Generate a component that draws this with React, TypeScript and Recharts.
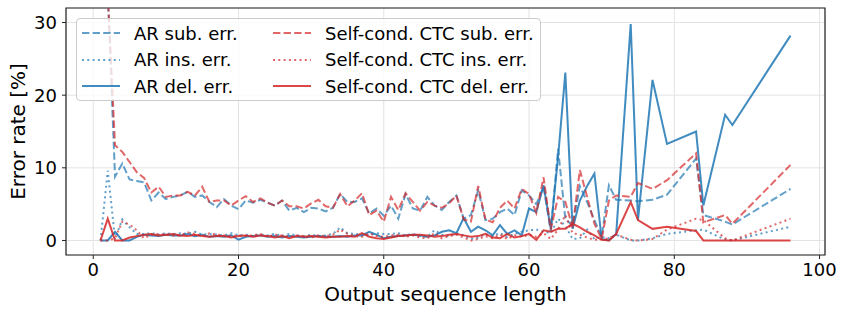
import React from "react";
import {
  LineChart,
  Line,
  XAxis,
  YAxis,
  CartesianGrid,
  ReferenceArea,
} from "recharts";

// output sequence lengths present in the test set
const lengths = [
  1, 2, 3, 4, 5, 6, 7, 8, 9, 10, 11, 12, 13, 14, 15, 16, 17, 18, 19, 20,
  21, 22, 23, 24, 25, 26, 27, 28, 29, 30, 31, 32, 33, 34, 35, 36, 37, 38, 39, 40,
  41, 42, 43, 44, 45, 46, 47, 48, 49, 50, 51, 52, 53, 54, 55, 56, 57, 58, 59, 60,
  61, 62, 63, 64, 65, 66, 67, 68, 69, 70, 71, 72, 74, 75, 77, 79, 83, 84, 87, 88, 96,
];

const arSub = [
  null, 34, 8.8, 10.6, 8.4, 8.2, 8.0, 5.5, 6.6, 5.7, 6.0, 6.2, 6.7, 6.0, 6.2, 5.3, 4.6, 5.7, 4.8, 4.3,
  5.5, 5.2, 5.6, 5.2, 4.8, 5.5, 4.1, 4.5, 3.9, 4.5, 4.4, 4.0, 4.5, 6.4, 5.3, 5.3, 5.8, 3.7, 4.4, 3.4,
  4.8, 3.0, 6.4, 4.4, 4.1, 6.0, 4.8, 4.2, 5.3, 6.2, 3.0, 3.5, 6.9, 2.8, 3.0, 3.9, 4.4, 3.5, 6.9, 6.2,
  5.0, 7.4, 1.2, 12.6, 3.0, 2.0, 7.5, 5.3, 2.8, 0.5, 7.6, 5.6, 5.5, 5.4, 5.6, 6.3, 11.3, 3.5, 2.6, 2.2, 7.1,
];
const arIns = [
  0, 9.6, 0.2, 2.9, 1.8, 0.9, 0.9, 1.0, 0.8, 1.0, 0.9, 1.0, 0.9, 1.2, 0.8, 0.9, 0.8, 0.7, 1.0, 0.7,
  0.8, 0.6, 0.8, 0.7, 0.9, 0.6, 0.9, 0.7, 0.6, 0.8, 0.6, 0.7, 0.9, 1.8, 1.0, 0.9, 0.8, 0.7, 1.0, 0.9,
  0.9, 1.0, 0.7, 0.9, 0.6, 0.5, 1.4, 0.8, 0.6, 1.0, 0.7, 0.2, 0.4, 0.9, 0.6, 1.0, 0.5, 0.9, 1.2, 1.4,
  1.5, 1.2, 1.0, 3.0, 2.0, 0.2, 0.3, 1.5, 0.2, 0.5, 0.3, 0.8, 0.0, 0.0, 0.3, 0.9, 1.4, 1.5, 0.1, 0.0, 1.9,
];
const arDel = [
  0, 0, 1.2, 0, 0, 0.5, 0.8, 0.7, 0.6, 0.8, 0.7, 0.7, 0.9, 0.6, 0.8, 0.5, 0.6, 0.5, 0.7, 0.1,
  0.5, 0.6, 0.7, 0.5, 0.6, 0.4, 0.6, 0.5, 0.4, 0.5, 0.6, 0.5, 0.5, 0.6, 0.5, 0.7, 0.7, 1.2, 0.8, 0.3,
  0.5, 0.6, 0.7, 0.8, 0.7, 0.5, 0.7, 1.2, 1.4, 1.0, 3.1, 1.2, 1.9, 1.4, 0.7, 2.1, 0.9, 1.4, 0.7, 4.4,
  3.9, 7.6, 1.6, 11.5, 23.1, 1.6, 5.5, 7.5, 9.2, 0.2, 0.0, 0.9, 29.8, 2.8, 22.1, 13.3, 15.0, 4.8, 17.3, 15.9, 28.2,
];
const ctcSub = [
  null, 34, 13.1, 12.2, 10.8, 9.4, 8.6, 6.6, 7.4, 6.0, 6.2, 6.2, 6.7, 6.2, 7.4, 5.3, 5.5, 5.5, 4.8, 5.5,
  6.1, 5.3, 5.8, 5.2, 4.8, 5.5, 4.7, 4.7, 4.4, 5.1, 5.6, 4.7, 4.5, 6.4, 4.7, 5.5, 6.5, 3.5, 4.1, 2.6,
  6.0, 4.2, 6.5, 5.3, 4.1, 5.3, 4.8, 4.5, 5.1, 6.2, 2.9, 2.6, 7.5, 2.9, 2.5, 4.5, 5.5, 4.4, 7.1, 6.4,
  3.8, 8.7, 1.5, 6.0, 5.3, 1.8, 9.7, 6.0, 2.3, 0.2, 5.5, 6.2, 6.0, 7.9, 7.1, 8.3, 12.0, 2.5, 3.5, 2.3, 10.4,
];
const ctcIns = [
  0, 0, 0.3, 2.6, 2.2, 1.4, 0.3, 0.8, 0.9, 0.8, 0.7, 0.7, 1.1, 0.9, 0.6, 1.0, 0.8, 0.7, 0.6, 0.7,
  0.6, 0.7, 0.9, 0.5, 0.8, 0.7, 0.5, 0.7, 0.6, 0.4, 0.7, 0.6, 0.8, 1.5, 0.9, 0.6, 0.5, 1.0, 0.6, 0.5,
  0.7, 0.8, 0.5, 0.7, 0.4, 0.3, 1.0, 0.3, 0.6, 0.8, 0.4, 0.0, 0.2, 0.6, 0.3, 0.8, 0.2, 0.7, 0.5, 0.8,
  0.5, 1.0, 0.2, 1.5, 3.5, 1.0, 0.8, 0.4, 0.1, 0.2, 0.3, 0.8, 0.1, 0.0, 0.2, 1.5, 3.0, 2.8, 0.3, 0.0, 3.0,
];
const ctcDel = [
  0, 3.0, 0, 0, 0.4, 0.6, 0.8, 0.9, 0.7, 0.8, 0.9, 0.7, 0.6, 0.8, 0.6, 0.5, 0.6, 0.6, 0.4, 0.6,
  0.7, 0.5, 0.7, 0.6, 0.4, 0.6, 0.3, 0.6, 0.5, 0.6, 0.5, 0.4, 0.5, 0.5, 0.6, 0.5, 1.0, 0.5, 0.3, 0.2,
  0.4, 0.6, 0.7, 0.8, 0.8, 0.7, 0.5, 0.6, 0.8, 0.9, 0.7, 0.5, 0.6, 0.9, 0.4, 0.3, 0.9, 0.4, 0.6, 0.9,
  0.1, 1.4, 1.2, 1.6, 1.6, 2.3, 1.8, 1.2, 0.7, 0.1, 0.0, 0.9, 5.3, 2.8, 1.6, 1.9, 1.3, 0, 0, 0, 0,
];

const xTicks = [0, 20, 40, 60, 80, 100];
const yTicks = [0, 10, 20, 30];

const BLUE = "#1f77b4";
const RED = "#d62728";
const DASH = "7.4 3.2";
const DOT = "2 3.3";
const FONT = "'DejaVu Sans', sans-serif";

const series = [
  { key: "arSub", label: "AR sub. err.", color: BLUE, dash: DASH, alpha: 0.7 },
  { key: "arIns", label: "AR ins. err.", color: BLUE, dash: DOT, alpha: 0.7 },
  { key: "arDel", label: "AR del. err.", color: BLUE, dash: undefined, alpha: 0.85 },
  { key: "ctcSub", label: "Self-cond. CTC sub. err.", color: RED, dash: DASH, alpha: 0.7 },
  { key: "ctcIns", label: "Self-cond. CTC ins. err.", color: RED, dash: DOT, alpha: 0.7 },
  { key: "ctcDel", label: "Self-cond. CTC del. err.", color: RED, dash: undefined, alpha: 0.85 },
];

const data = lengths.map((len, i) => ({
  len,
  arSub: arSub[i],
  arIns: arIns[i],
  arDel: arDel[i],
  ctcSub: ctcSub[i],
  ctcIns: ctcIns[i],
  ctcDel: ctcDel[i],
}));

function LegendBox() {
  const cols = [series.slice(0, 3), series.slice(3)];
  return (
    <div
      style={{
        position: "absolute",
        left: 76,
        top: 18,
        width: 465,
        height: 83,
        boxSizing: "border-box",
        background: "rgba(255,255,255,0.8)",
        border: "1px solid #cccccc",
        borderRadius: 4,
        fontFamily: FONT,
        fontSize: 18,
        color: "#000",
      }}
    >
      {cols.map((col, ci) => (
        <div
          key={ci}
          style={{ position: "absolute", left: ci === 0 ? 5 : 196, top: 0 }}
        >
          {col.map((s, ri) => (
            <div
              key={s.key}
              style={{
                position: "absolute",
                top: 3 + ri * 26.5,
                left: 0,
                height: 22,
                display: "flex",
                alignItems: "center",
                whiteSpace: "nowrap",
              }}
            >
              <svg width={38} height={22} style={{ display: "block" }}>
                <line
                  x1={0}
                  x2={38}
                  y1={11}
                  y2={11}
                  stroke={s.color}
                  strokeOpacity={s.alpha}
                  strokeWidth={2}
                  strokeDasharray={s.dash}
                />
              </svg>
              <span style={{ marginLeft: 14 }}>{s.label}</span>
            </div>
          ))}
        </div>
      ))}
    </div>
  );
}

export default function App() {
  return (
    <div
      style={{
        position: "absolute",
        left: 0,
        top: 0,
        width: 847,
        height: 315,
        background: "#fff",
        fontFamily: FONT,
      }}
    >
      <LineChart
        width={847}
        height={315}
        data={data}
        margin={{ top: 8, right: 22, left: 0, bottom: 0 }}
      >
        <CartesianGrid stroke="#e3e3e3" strokeWidth={1} />
        <XAxis
          dataKey="len"
          type="number"
          domain={[-3.75, 100.75]}
          ticks={xTicks}
          allowDataOverflow
          height={60}
          tickSize={4}
          tickMargin={4}
          stroke="#222"
          axisLine={false}
          tick={{ fontSize: 18, fill: "#000", fontFamily: FONT }}
          label={{
            value: "Output sequence length",
            position: "insideBottom",
            offset: 14,
            style: { fontSize: 20, fill: "#000", fontFamily: FONT },
          }}
        />
        <YAxis
          type="number"
          domain={[-2, 32]}
          ticks={yTicks}
          allowDataOverflow
          width={66}
          tickSize={4}
          tickMargin={5}
          stroke="#222"
          axisLine={false}
          tick={{ fontSize: 18, fill: "#000", fontFamily: FONT }}
          label={{
            value: "Error rate [%]",
            angle: -90,
            position: "insideLeft",
            offset: 18,
            style: {
              fontSize: 20,
              fill: "#000",
              fontFamily: FONT,
              textAnchor: "middle",
            },
          }}
        />
        {series.map((s) => (
          <Line
            key={s.key}
            dataKey={s.key}
            type="linear"
            stroke={s.color}
            strokeOpacity={s.alpha}
            strokeWidth={2}
            strokeDasharray={s.dash}
            dot={false}
            activeDot={false}
            isAnimationActive={false}
          />
        ))}
        <ReferenceArea
          x1={-3.75}
          x2={100.75}
          y1={-2}
          y2={32}
          fill="none"
          stroke="#222"
          strokeWidth={1.2}
          fillOpacity={0}
        />
      </LineChart>
      <LegendBox />
    </div>
  );
}
